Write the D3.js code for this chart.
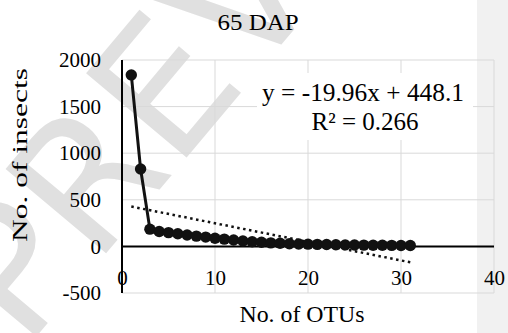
<!DOCTYPE html>
<html lang="en">
<head>
    <meta charset="UTF-8">
    <title>65 DAP</title>
    <script src="https://d3js.org/d3.v7.min.js"></script>
    <style>
        body { margin: 0; background: #fff; }
        svg { display: block; font-family: "Liberation Serif", "Times New Roman", serif; }
    </style>
</head>
<body>
    <div id="chart"></div>

    <script>
        // OTU rank (x) and insect counts (y)
        var otus = [1, 2, 3, 4, 5, 6, 7, 8, 9, 10, 11, 12, 13, 14, 15, 16,
                    17, 18, 19, 20, 21, 22, 23, 24, 25, 26, 27, 28, 29, 30, 31];
        var insects = [1840, 830, 185, 160, 148, 135, 122, 110, 100, 88, 78, 68, 58, 50, 44, 38,
                       33, 29, 26, 24, 22, 20, 18, 16, 15, 14, 13, 12, 11, 10, 9];

        // linear trendline as printed on the chart
        var slope = -19.96;
        var intercept = 448.1;
        var rSquared = 0.266;

        var xTicks = [0, 10, 20, 30, 40];
        var yTicks = [-500, 0, 500, 1000, 1500, 2000];

        var width = 508, height = 333;
        var serif = "Liberation Serif, Times New Roman, serif";

        var svg = d3.select("#chart").append("svg")
            .attr("width", width)
            .attr("height", height);

        // grey side panel of the page
        svg.append("rect")
            .attr("x", 477).attr("y", 0)
            .attr("width", width - 477).attr("height", height)
            .attr("fill", "#f1f1f1");

        // faint watermark
        svg.append("text")
            .attr("transform", "translate(25,350) rotate(-50)")
            .attr("font-family", "DejaVu Sans")
            .attr("font-size", 180)
            .attr("fill", "#e0e0e0")
            .text("PREVIEW");

        var x = d3.scaleLinear().domain([0, 40]).range([122, 494]);
        var y = d3.scaleLinear().domain([-500, 2000]).range([293, 60]);
        var fmt = function(d) { return d < 0 ? "-" + Math.abs(d) : String(d); };

        // gridlines
        svg.append("g")
            .selectAll("line")
            .data(yTicks.filter(function(d) { return d !== 0; }))
            .enter().append("line")
            .attr("x1", x(0)).attr("x2", x(40))
            .attr("y1", function(d) { return y(d); })
            .attr("y2", function(d) { return y(d); })
            .attr("stroke", "#d9d9d9").attr("stroke-width", 1);

        svg.append("g")
            .selectAll("line")
            .data(xTicks.filter(function(d) { return d !== 0; }))
            .enter().append("line")
            .attr("x1", function(d) { return x(d); })
            .attr("x2", function(d) { return x(d); })
            .attr("y1", y(2000)).attr("y2", y(-500))
            .attr("stroke", "#d9d9d9").attr("stroke-width", 1);

        // y tick labels
        var yAxis = svg.append("g")
            .attr("transform", "translate(" + x(0) + ",0)")
            .call(d3.axisLeft(y).tickValues(yTicks).tickFormat(fmt).tickSize(0).tickPadding(21))
            .attr("font-family", serif)
            .attr("font-size", 21);
        yAxis.select(".domain").remove();
        yAxis.selectAll("text").attr("fill", "#000");

        // x tick labels
        var xAxis = svg.append("g")
            .attr("transform", "translate(0," + y(0) + ")")
            .call(d3.axisBottom(x).tickValues(xTicks).tickFormat(fmt).tickSize(0))
            .attr("font-family", serif)
            .attr("font-size", 21);
        xAxis.select(".domain").remove();
        xAxis.selectAll("text")
            .attr("fill", "#000")
            .attr("y", 39)
            .attr("dy", 0);

        // axis lines
        svg.append("line")
            .attr("x1", x(0)).attr("x2", x(0))
            .attr("y1", y(2000)).attr("y2", y(-500))
            .attr("stroke", "#000").attr("stroke-width", 2);
        svg.append("line")
            .attr("x1", x(0)).attr("x2", x(40))
            .attr("y1", y(0)).attr("y2", y(0))
            .attr("stroke", "#000").attr("stroke-width", 2);

        // trendline label with white box
        svg.append("rect")
            .attr("x", 257).attr("y", 73)
            .attr("width", 216).attr("height", 67)
            .attr("fill", "#fff");
        svg.append("text")
            .attr("x", 363).attr("y", 101)
            .attr("text-anchor", "middle")
            .attr("font-size", 25)
            .attr("textLength", 202)
            .attr("lengthAdjust", "spacingAndGlyphs")
            .text("y = " + slope + "x + " + intercept);
        svg.append("text")
            .attr("x", 365).attr("y", 130)
            .attr("text-anchor", "middle")
            .attr("font-size", 25)
            .text("R\u00b2 = " + rSquared);

        var points = otus.map(function(d, i) { return [d, insects[i]]; });

        // series line
        svg.append("path")
            .datum(points)
            .attr("fill", "none")
            .attr("stroke", "#111")
            .attr("stroke-width", 3)
            .attr("d", d3.line()
                .x(function(d) { return x(d[0]); })
                .y(function(d) { return y(d[1]); }));

        // trendline
        var xFirst = d3.min(otus), xLast = d3.max(otus);
        svg.append("line")
            .attr("x1", x(xFirst)).attr("y1", y(slope * xFirst + intercept))
            .attr("x2", x(xLast)).attr("y2", y(slope * xLast + intercept))
            .attr("stroke", "#111")
            .attr("stroke-width", 2.5)
            .attr("stroke-dasharray", "2.5,3.5");

        // markers
        svg.append("g")
            .selectAll("circle")
            .data(points)
            .enter().append("circle")
            .attr("cx", function(d) { return x(d[0]); })
            .attr("cy", function(d) { return y(d[1]); })
            .attr("r", 5.7)
            .attr("fill", "#111");

        // titles
        svg.append("text")
            .attr("x", 258).attr("y", 30)
            .attr("text-anchor", "middle")
            .attr("font-size", 23)
            .attr("textLength", 81)
            .attr("lengthAdjust", "spacingAndGlyphs")
            .text("65 DAP");

        svg.append("text")
            .attr("x", 302).attr("y", 322)
            .attr("text-anchor", "middle")
            .attr("font-size", 24)
            .attr("textLength", 125)
            .attr("lengthAdjust", "spacingAndGlyphs")
            .text("No. of OTUs");

        svg.append("text")
            .attr("transform", "translate(27,155) rotate(-90)")
            .attr("text-anchor", "middle")
            .attr("font-size", 22)
            .attr("textLength", 174)
            .attr("lengthAdjust", "spacingAndGlyphs")
            .text("No. of insects");
    </script>
</body>
</html>
